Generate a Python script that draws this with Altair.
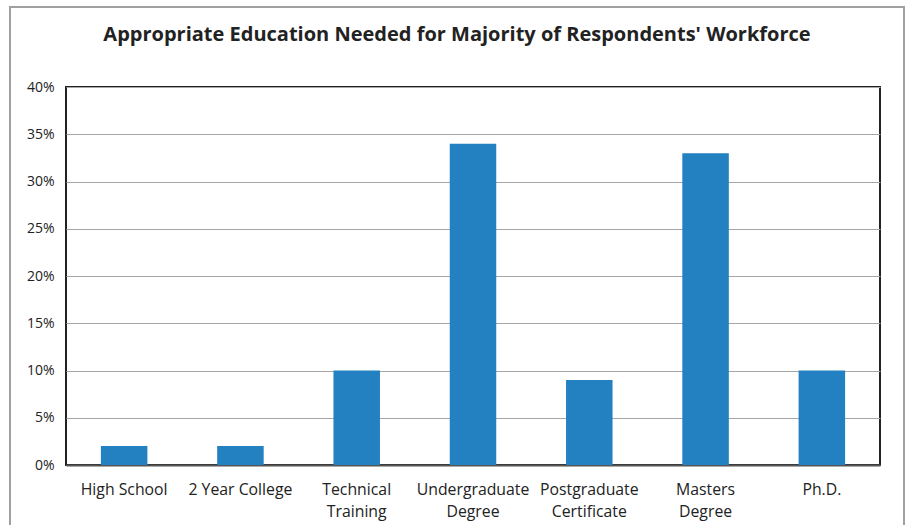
import altair as alt
import pandas as pd

categories = ["High School", "2 Year College", "Technical\nTraining", "Undergraduate\nDegree",
              "Postgraduate\nCertificate", "Masters\nDegree", "Ph.D."]
values = [0.02, 0.02, 0.10, 0.34, 0.09, 0.33, 0.10]
y_ticks = [0, 0.05, 0.10, 0.15, 0.20, 0.25, 0.30, 0.35, 0.40]

df = pd.DataFrame({"cat": categories, "val": values})

W, H = 814, 378
FONT = "Open Sans"

bars = alt.Chart(df).mark_bar(color="#2481C1").encode(
    x=alt.X("cat:N", sort=categories,
            scale=alt.Scale(paddingInner=0.6, paddingOuter=0.3),
            axis=alt.Axis(title=None, labelAngle=0, labelExpr="split(datum.label, '\\n')",
                          labelFont=FONT, labelFontSize=15.8, labelColor="#222222",
                          labelPadding=17, labelLineHeight=22, ticks=False,
                          domainColor="#555555", domainWidth=2, labelBaseline="top")),
    y=alt.Y("val:Q", scale=alt.Scale(domain=[0, 0.4], nice=False),
            axis=alt.Axis(title=None, format=".0%", values=y_ticks,
                          labelFont=FONT, labelFontSize=14, labelColor="#222222",
                          labelPadding=12, ticks=False, domain=False,
                          gridColor="#A6A6A6", gridWidth=1)),
)

frame = alt.Chart(df).mark_rect(fill=None, stroke="#A0A0A0", strokeWidth=1.5).encode(
    x=alt.value(-56), x2=alt.value(838), y=alt.value(-80), y2=alt.value(460)
)

chart = alt.layer(frame, bars).properties(
    width=W, height=H,
    autosize=alt.AutoSizeParams(type="none"),
    padding={"left": 66, "top": 87, "right": 27, "bottom": 60},
    title=alt.TitleParams("Appropriate Education Needed for Majority of Respondents' Workforce",
                          font=FONT, fontSize=20, fontWeight="bold", color="#222222",
                          anchor="middle", dx=-16, offset=-39),
).configure_view(stroke="#222222", strokeWidth=2)

chart.save("out.html", embed_options={"renderer": "svg", "actions": False})
